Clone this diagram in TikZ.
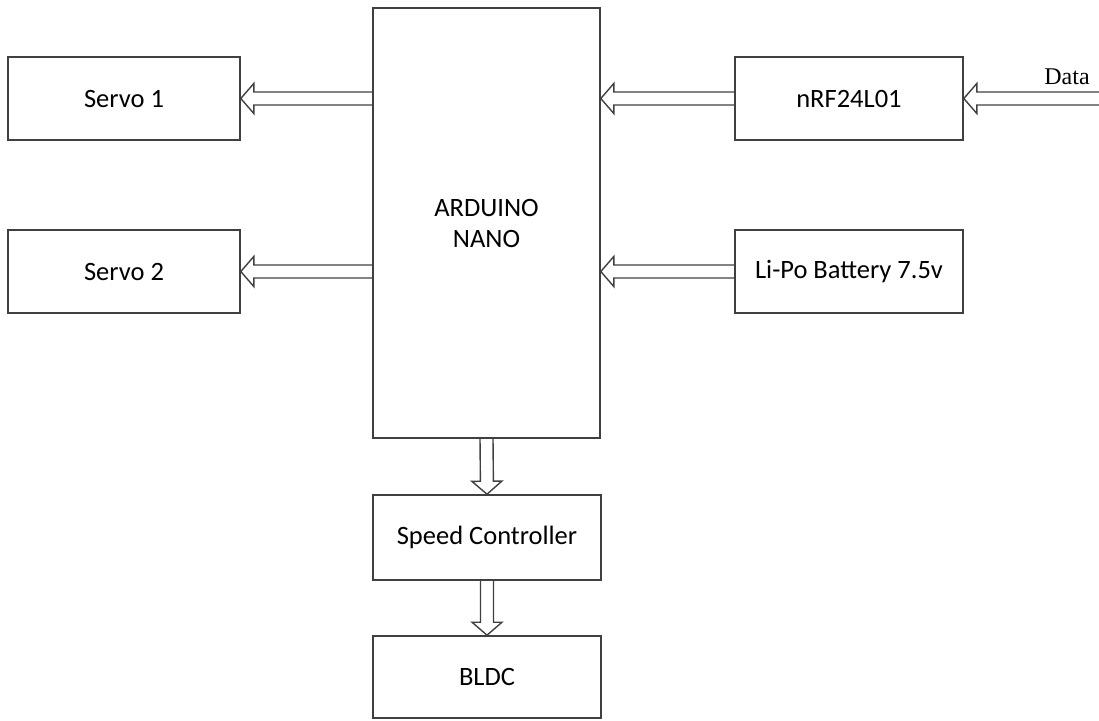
\documentclass[tikz,border=0pt]{standalone}
\usepackage{fontspec}
\setmainfont{Carlito}
\newfontfamily\datafont{Liberation Serif}
\usetikzlibrary{calc}
\tikzset{
  blk/.style={draw=black!75, line width=1.6pt, fill=white, inner sep=0pt, font=\fontsize{26.5}{31}\selectfont, align=center},
  arrowline/.style={draw=black!75, line width=1.4pt, line join=miter}
}
\newcommand\ahs{6.5pt}
\newcommand\ahh{15pt}
\newcommand\ahl{13pt}
\newcommand\hollowarrow[2]{%
  \coordinate (hb) at ($(#2)!\ahl!(#1)$);
  \draw[arrowline] ($(#1)!\ahs!90:(#2)$) -- ($(hb)!\ahs!90:(#2)$) -- ($(hb)!\ahh!90:(#2)$) -- (#2)
     -- ($(hb)!\ahh!-90:(#2)$) -- ($(hb)!\ahs!-90:(#2)$) -- ($(#1)!\ahs!-90:(#2)$);
}
\begin{document}
\begin{tikzpicture}[x=1pt,y=-1pt]
\useasboundingbox (0,0) rectangle (1099,720);
\node[blk, minimum width=232pt, minimum height=83pt] (servo1) at (124,98.5) {Servo 1};
\node[blk, minimum width=232pt, minimum height=83pt] (servo2) at (124,271.5) {Servo 2};
\node[blk, minimum width=227pt, minimum height=430pt] (ard) at (486.5,223) {ARDUINO\\NANO};
\node[blk, minimum width=228pt, minimum height=83pt] (nrf) at (849,98.5) {nRF24L01};
\node[blk, minimum width=228pt, minimum height=83pt] (lipo) at (849,271.5) {Li-Po Battery 7.5v};
\node[blk, minimum width=228pt, minimum height=85pt] (sc) at (487,537.5) {Speed Controller};
\node[blk, minimum width=228pt, minimum height=82pt] (bldc) at (487,677) {BLDC};
\coordinate (datain) at (1099,98.5);
\node[font=\datafont\fontsize{24}{28}\selectfont, anchor=south] (datalbl) at (1067,88) {Data};
\hollowarrow{servo1.east -| ard.west}{servo1.east}
\hollowarrow{servo2.east -| ard.west}{servo2.east}
\hollowarrow{nrf.west}{nrf.west -| ard.east}
\hollowarrow{lipo.west}{lipo.west -| ard.east}
\hollowarrow{datain}{nrf.east}
\hollowarrow{ard.south}{sc.north}
\hollowarrow{sc.south}{bldc.north}
\end{tikzpicture}
\end{document}
